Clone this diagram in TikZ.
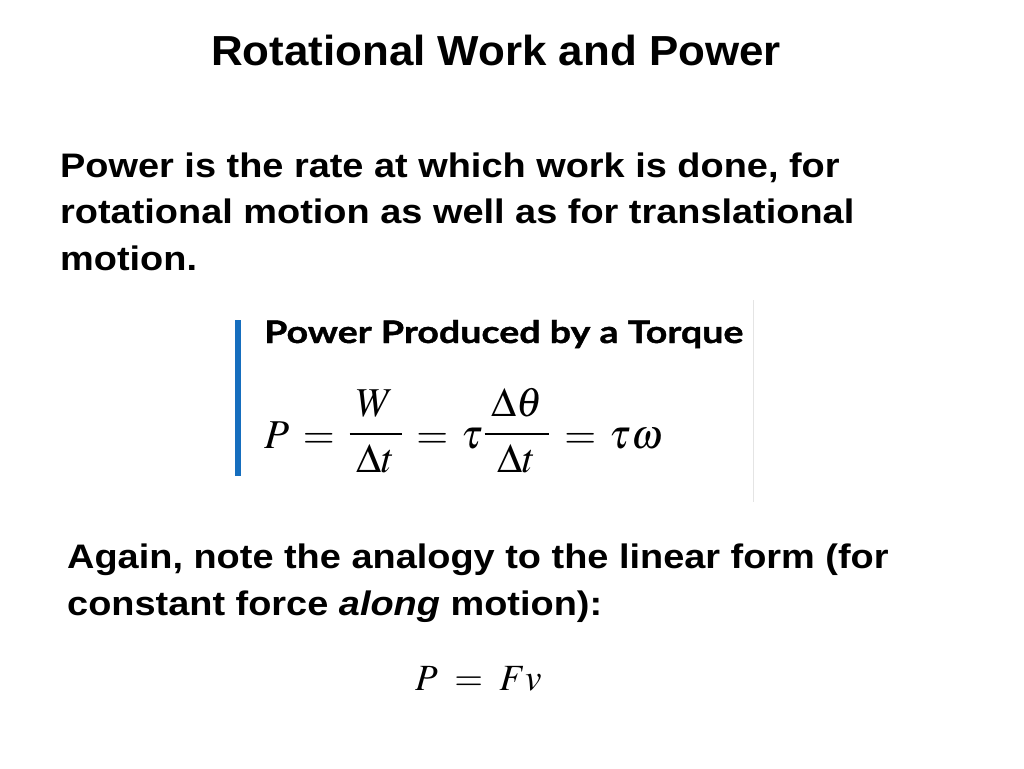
\documentclass[tikz,border=0pt]{standalone}
\usepackage{mathptmx}
\usepackage[no-math]{fontspec}
\setmainfont{Liberation Sans}
\newfontfamily\titlefont[FakeStretch=1.045]{Liberation Sans}
\newfontfamily\bodyfont[FakeStretch=1.115]{Liberation Sans}
\newfontfamily\headfont[FakeStretch=1.212,FakeBold=1.2]{Lato}
\newcommand\upfrac[2]{\raisebox{4pt}{$\displaystyle\frac{\mkern3mu#1\mkern3mu}{\mkern3mu#2\mkern3mu}$}}
\definecolor{barblue}{RGB}{22,110,190}
\definecolor{linegray}{RGB}{228,228,228}
\begin{document}
\begin{tikzpicture}[x=1pt,y=-1pt,
  titletext/.style={font=\titlefont\fontsize{42}{48}\selectfont\bfseries, inner sep=0pt, anchor=base},
  bodytext/.style={font=\bodyfont\fontsize{34}{46}\selectfont\bfseries, inner sep=0pt, anchor=base west},
  headtext/.style={font=\headfont\fontsize{31}{36}\selectfont\bfseries, inner sep=0pt, anchor=base west},
  mathtext/.style={font=\fontsize{41}{46}\selectfont, inner sep=0pt, anchor=base west}]
\useasboundingbox (0,0) rectangle (1024,768);
\fill[white] (0,0) rectangle (1024,768);
\node[titletext] (title) at (496,65) {Rotational Work and Power};
\node[bodytext] (p1a) at (60,177) {Power is the rate at which work is done, for};
\node[bodytext] (p1b) at (60,223.5) {rotational motion as well as for translational};
\node[bodytext] (p1c) at (60,270) {motion.};
\fill[barblue] (234.5,320) rectangle (240.5,476);
\draw[linegray, line width=1pt] (753,300) -- (753,502);
\node[headtext] (head) at (264,343) {Power Produced by a Torque};
\node[mathtext] (eq1) at (264,448) {$P\,=\,\upfrac{W}{\Delta t}\,=\,\tau\upfrac{\Delta\theta}{\Delta t}\,=\,\tau\omega$};
\node[bodytext] (p2a) at (67,568) {Again, note the analogy to the linear form (for};
\node[bodytext] (p2b) at (67,615) {constant force \textit{along} motion):};
\node[mathtext, font=\fontsize{37}{42}\selectfont] (eq2) at (415,690) {$P\;=\;Fv$};
\end{tikzpicture}
\end{document}
